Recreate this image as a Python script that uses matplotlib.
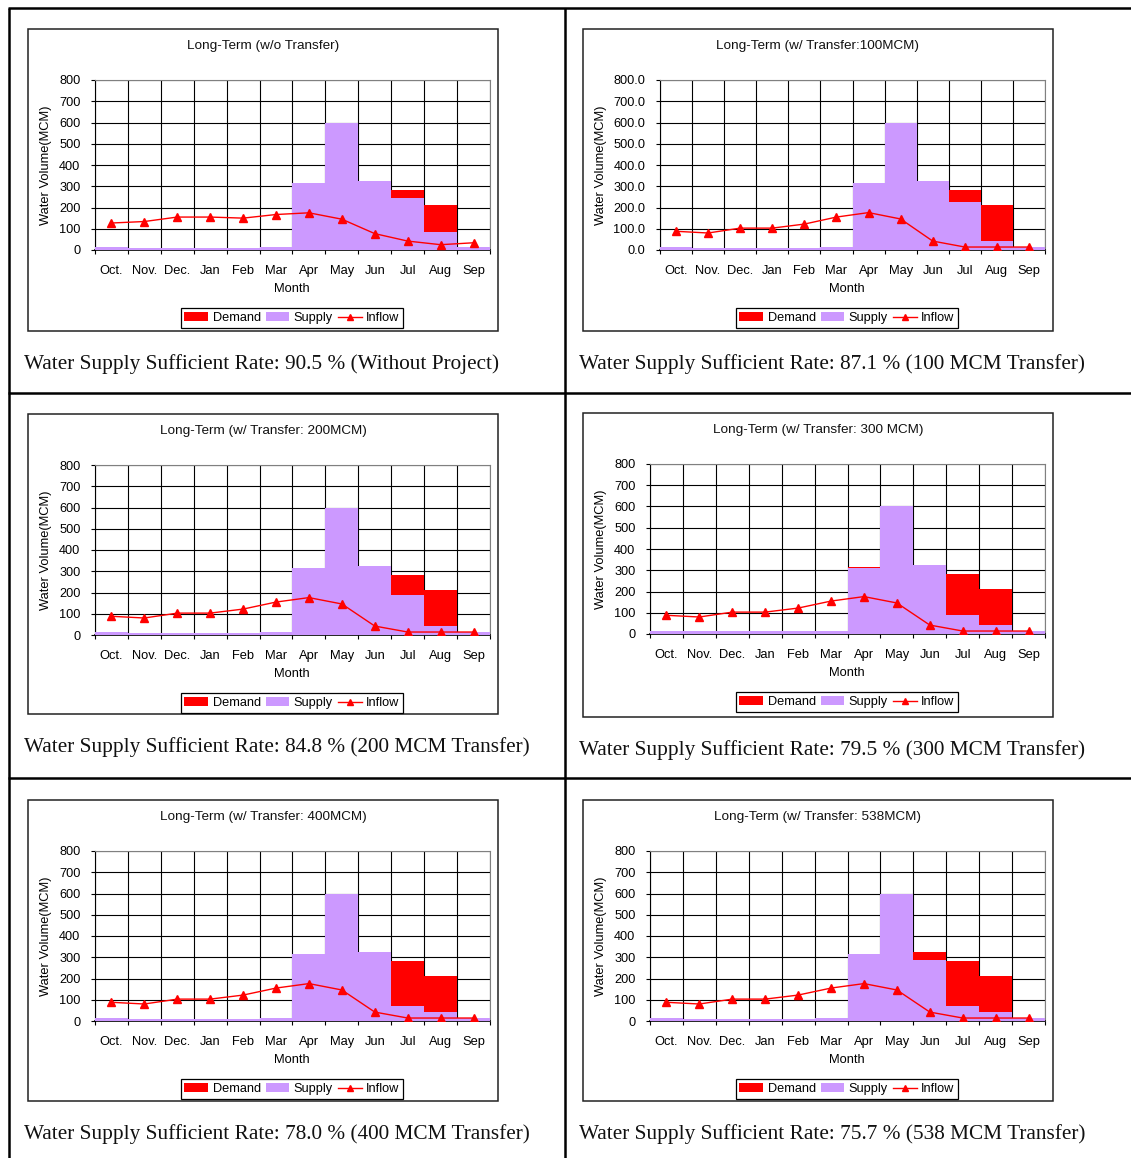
import matplotlib
matplotlib.use("Agg")
import matplotlib.pyplot as plt
from matplotlib.lines import Line2D
from matplotlib.patches import Rectangle, Patch
from matplotlib.ticker import FixedLocator, FormatStrFormatter, NullFormatter

W, H = 1131, 1158
DPI = 100

# ---------------- data ----------------
months = ["Oct.", "Nov.", "Dec.", "Jan", "Feb", "Mar", "Apr", "May", "Jun", "Jul", "Aug", "Sep"]

demand = [15, 10, 10, 10, 10, 15, 314, 600, 323, 281, 211, 15]

supply_no_transfer = [15, 10, 10, 10, 10, 15, 314, 600, 323, 245, 86, 15]
supply_100 = [15, 10, 10, 10, 10, 15, 314, 600, 323, 227, 44, 15]
supply_200 = [15, 10, 10, 10, 10, 15, 314, 600, 323, 187, 43, 15]
supply_300 = [12, 12, 12, 12, 12, 12, 312, 600, 323, 91, 44, 12]
supply_400 = [15, 10, 10, 10, 10, 15, 314, 600, 323, 71, 44, 15]
supply_538 = [15, 10, 10, 10, 10, 15, 314, 600, 287, 71, 44, 15]

inflow_no_transfer = [127, 134, 155, 155, 150, 167, 175, 145, 77, 42, 25, 34]
inflow_transfer = [88, 80, 103, 103, 122, 155, 176, 146, 42, 14, 14, 14]

titles = [
    "Long-Term (w/o Transfer)",
    "Long-Term (w/ Transfer:100MCM)",
    "Long-Term (w/ Transfer: 200MCM)",
    "Long-Term (w/ Transfer: 300 MCM)",
    "Long-Term (w/ Transfer: 400MCM)",
    "Long-Term (w/ Transfer: 538MCM)",
]
captions = [
    "Water Supply Sufficient Rate: 90.5 % (Without Project)",
    "Water Supply Sufficient Rate: 87.1 % (100 MCM Transfer)",
    "Water Supply Sufficient Rate: 84.8 % (200 MCM Transfer)",
    "Water Supply Sufficient Rate: 79.5 % (300 MCM Transfer)",
    "Water Supply Sufficient Rate: 78.0 % (400 MCM Transfer)",
    "Water Supply Sufficient Rate: 75.7 % (538 MCM Transfer)",
]
supplies = [supply_no_transfer, supply_100, supply_200, supply_300, supply_400, supply_538]
inflows = [inflow_no_transfer, inflow_transfer, inflow_transfer,
           inflow_transfer, inflow_transfer, inflow_transfer]
ytick_values = [0, 100, 200, 300, 400, 500, 600, 700, 800]
ytick_formats = ["%d", "%.1f", "%d", "%d", "%d", "%d"]

# ---------------- layout (pixels) ----------------
boxes = [(28, 29, 498, 331), (583, 29, 1053, 331),
         (28, 414, 498, 714), (583, 413, 1053, 717),
         (28, 800, 498, 1101), (583, 800, 1053, 1101)]
caption_y = [364, 364, 747, 750, 1134, 1134]
plot_left_off = [67, 77, 67, 67, 67, 67]

RED = "#FF0000"
LAV = "#CC99FF"

plt.rcParams['font.family'] = ['Liberation Sans', 'DejaVu Sans']

fig = plt.figure(figsize=(W / DPI, H / DPI), dpi=DPI)


def fx(x):
    return x / W


def fy(y):
    return 1 - y / H


def fline(xs, ys, lw=1.8, color="black"):
    fig.add_artist(Line2D([fx(v) for v in xs], [fy(v) for v in ys],
                          transform=fig.transFigure, color=color, lw=lw,
                          solid_capstyle="butt"))


# table lines
fline([8, W], [8, 8])
fline([9, 9], [8, H])
fline([565, 565], [8, H])
fline([8, W], [393, 393])
fline([8, W], [778, 778])

for i in range(6):
    bx0, by0, bx1, by1 = boxes[i]
    # chart frame
    fig.add_artist(Rectangle((fx(bx0), fy(by1)), (bx1 - bx0) / W, (by1 - by0) / H,
                             transform=fig.transFigure, fill=False,
                             ec="#222222", lw=1.1))
    fig.text(fx(bx0 + 235), fy(by0 + 17), titles[i], ha="center", va="center",
             fontsize=9.7, color="#111111")

    px0 = bx0 + plot_left_off[i]
    px1 = bx0 + 462
    py0 = by0 + 51
    py1 = by0 + 221
    ax = fig.add_axes([fx(px0), fy(py1), (px1 - px0) / W, (py1 - py0) / H])
    x = list(range(len(months)))
    ax.bar(x, demand, width=1.0, color=RED, lw=0, zorder=2)
    ax.bar(x, supplies[i], width=1.0, color=LAV, lw=0, zorder=3)
    ax.plot(x, inflows[i], color=RED, lw=1.0, marker="^", ms=5.5, zorder=4)
    ax.set_xlim(-0.5, len(months) - 0.5)
    ax.set_ylim(0, 800)
    ax.set_axisbelow(True)

    ax.yaxis.set_major_locator(FixedLocator(ytick_values))
    ax.yaxis.set_major_formatter(FormatStrFormatter(ytick_formats[i]))
    ax.xaxis.set_major_locator(FixedLocator([k - 0.5 for k in range(len(months) + 1)]))
    ax.xaxis.set_major_formatter(NullFormatter())
    ax.xaxis.set_minor_locator(FixedLocator(x))
    ax.set_xticklabels(months, minor=True)
    ax.tick_params(axis="x", which="major", direction="out", length=3, width=0.8)
    ax.tick_params(axis="x", which="minor", length=0, pad=10.5, labelsize=9.3)
    ax.tick_params(axis="y", which="major", direction="out", length=3, width=0.8,
                   pad=7.5, labelsize=9.2)
    ax.grid(True, which="major", color="black", lw=0.8)
    for s in ["top", "right"]:
        ax.spines[s].set_color("#808080")
    ax.spines["left"].set_color("black")
    ax.spines["bottom"].set_color("black")
    ax.spines["bottom"].set_linewidth(1.2)

    fig.text(fx(bx0 + 264), fy(by0 + 260), "Month", ha="center", va="center", fontsize=9.3)
    fig.text(fx(bx0 + 18), fy((py0 + py1) / 2), "Water Volume(MCM)", ha="center",
             va="center", rotation=90, fontsize=9.3)

    handles = [Patch(facecolor=RED, edgecolor="none", label="Demand"),
               Patch(facecolor=LAV, edgecolor="none", label="Supply"),
               Line2D([0], [0], color=RED, lw=1.0, marker="^", ms=5, label="Inflow")]
    fig.legend(handles=handles, loc="center", ncol=3,
               bbox_to_anchor=(fx(bx0 + 264), fy(by0 + 289)),
               fontsize=9.2, frameon=True, fancybox=False, edgecolor="black",
               framealpha=1, handlelength=1.85, handleheight=0.65,
               handletextpad=0.35, columnspacing=0.4, borderpad=0.3,
               borderaxespad=0).get_frame().set_linewidth(0.9)

    fig.text(fx(bx0 - 4), fy(caption_y[i]), captions[i], ha="left", va="center",
             fontsize=15.3, family=["Liberation Serif", "DejaVu Serif"], color="#111111")

fig.savefig("out.png", dpi=DPI)
